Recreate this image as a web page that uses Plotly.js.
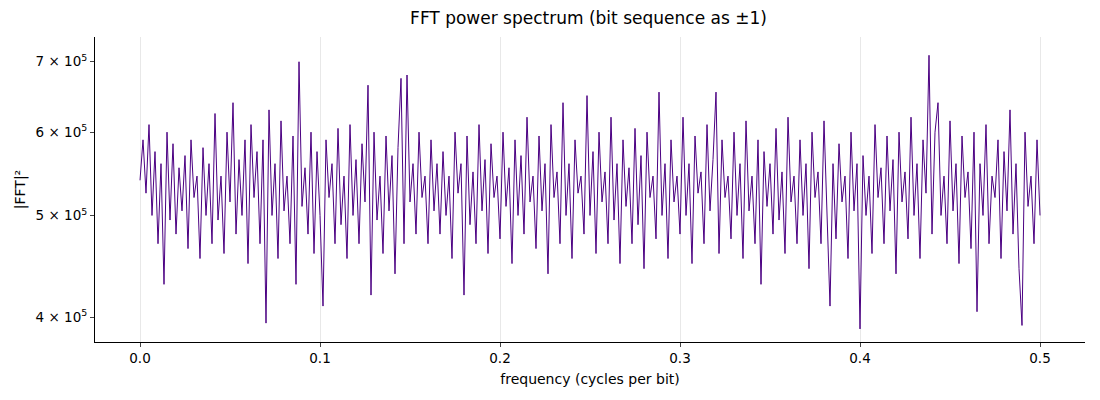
<!DOCTYPE html>
<html>
<head>
<meta charset="utf-8">
<script src="https://cdn.plot.ly/plotly-3.0.1.min.js"></script>
<style>body{margin:0;background:#fff}#chart{width:1100px;height:400px}</style>
</head>
<body>
<div id="chart"></div>
<script>
// |FFT|^2 values in thousands (bins evenly spaced 0 .. 0.5 cycles/bit)
const powerK = [
  540,590,525,610,500,575,470,560,430,600,495,585,480,555,505,570,465,590,520,545,
  455,580,500,560,470,625,495,545,460,600,515,640,480,565,500,590,450,610,520,575,
  470,590,395,630,500,560,455,615,505,545,470,595,430,700,510,555,480,600,460,575,
  500,410,590,520,560,470,605,490,545,455,610,500,565,470,585,515,665,420,600,495,
  545,460,595,505,570,440,580,675,470,680,515,560,480,600,520,545,470,590,505,560,
  480,575,500,545,455,600,525,560,420,595,490,550,470,610,505,565,460,585,520,545,
  475,600,510,555,450,590,500,570,480,620,515,545,465,595,505,560,440,610,520,550,
  470,640,500,560,455,590,525,545,480,650,500,575,460,600,515,550,470,620,495,560,
  450,590,510,555,470,605,490,570,445,600,520,545,475,655,500,560,455,590,515,545,
  480,620,500,560,450,595,525,550,470,610,505,565,655,460,590,520,545,475,600,500,
  560,455,615,505,545,470,590,430,575,510,560,480,605,495,550,460,620,515,545,470,
  590,500,560,445,600,520,550,470,615,495,410,560,475,585,515,545,455,600,505,560,
  390,570,500,545,460,610,520,555,470,595,505,565,440,600,515,550,475,620,500,560,
  455,590,525,710,480,600,640,500,545,470,615,505,560,450,595,520,550,465,600,405,
  560,500,610,470,545,520,590,455,575,505,630,480,560,445,393,600,510,545,470,590,
  500
];
const maxFreq = 0.5;
const freq = powerK.map((_, i) => (i * maxFreq) / (powerK.length - 1));
const power = powerK.map((v) => v * 1000);

const yTickVals = [4e5, 5e5, 6e5, 7e5];
const yTickText = ["4 × 10<sup>5</sup>", "5 × 10<sup>5</sup>", "6 × 10<sup>5</sup>", "7 × 10<sup>5</sup>"];

const trace = {
  type: "scatter",
  mode: "lines",
  x: freq,
  y: power,
  line: { color: "#4b0082", width: 1 },
  hoverinfo: "x+y",
};

const layout = {
  width: 1100,
  height: 400,
  margin: { l: 95, r: 15, t: 37, b: 58 },
  paper_bgcolor: "#fff",
  plot_bgcolor: "#fff",
  font: { family: "DejaVu Sans, sans-serif", size: 13.5, color: "#000" },
  title: { text: "FFT power spectrum (bit sequence as ±1)", x: 0.535, y: 0.97, font: { size: 17 } },
  showlegend: false,
  xaxis: {
    range: [-0.025, 0.525],
    tickvals: [0, 0.1, 0.2, 0.3, 0.4, 0.5],
    ticktext: ["0.0", "0.1", "0.2", "0.3", "0.4", "0.5"],
    ticks: "outside",
    ticklen: 4,
    showgrid: true,
    gridcolor: "#e8e8e8",
    zeroline: false,
    showline: true,
    linecolor: "#000",
    title: { text: "frequency (cycles per bit)", font: { size: 14 }, standoff: 8 },
  },
  yaxis: {
    type: "log",
    range: [Math.log10(379000), Math.log10(739000)],
    tickvals: yTickVals,
    ticktext: yTickText,
    ticks: "outside",
    ticklen: 4,
    showgrid: false,
    zeroline: false,
    showline: true,
    linecolor: "#000",
    title: { text: "|FFT|²", font: { size: 14 }, standoff: 6 },
  },
};

Plotly.newPlot("chart", [trace], layout, { displayModeBar: false, staticPlot: true });
</script>
</body>
</html>
